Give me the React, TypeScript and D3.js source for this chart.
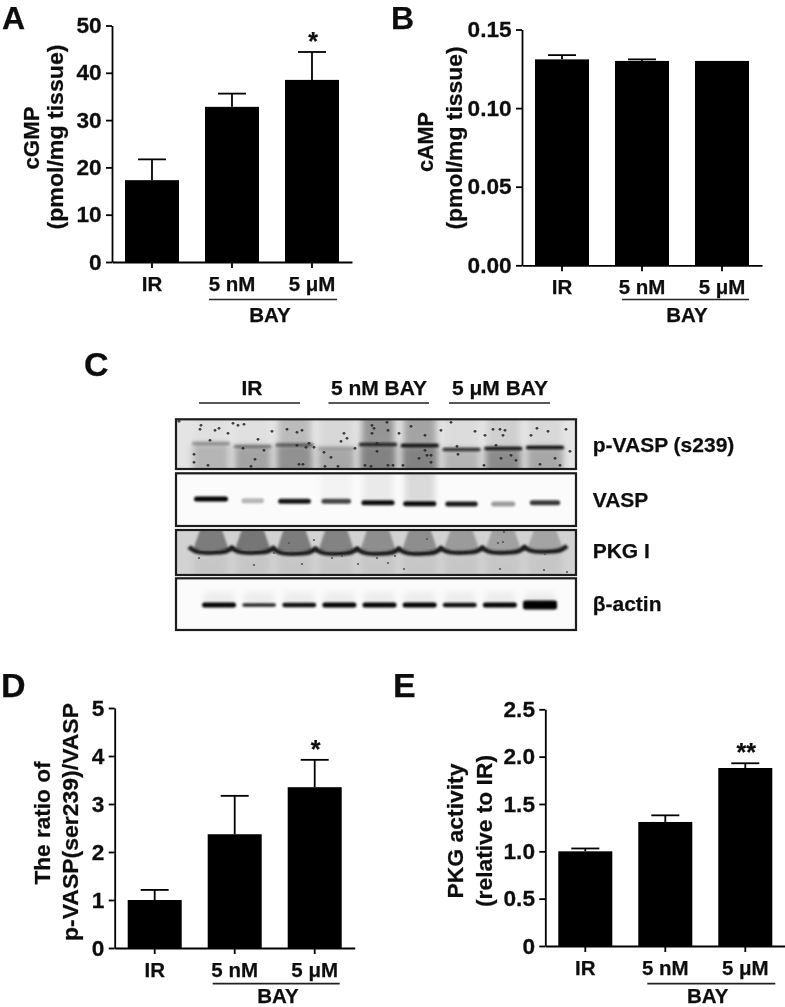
import React, { useEffect, useRef } from "react";
import * as d3 from "d3";

const groups = ["IR", "5 nM", "5 μM"];

// bar heights and top of the error whisker
const cgmpMeans = [17.3, 32.8, 38.5];
const cgmpUpper = [21.7, 35.6, 44.4];
const cgmpTicks = [0, 10, 20, 30, 40, 50];

const campMeans = [0.131, 0.13, 0.13];
const campUpper = [0.1337, 0.131, 0.13];
const campTicks = [0, 0.05, 0.1, 0.15];

const ratioMeans = [1.0, 2.37, 3.35];
const ratioUpper = [1.21, 3.17, 3.92];
const ratioTicks = [0, 1, 2, 3, 4, 5];

const pkgMeans = [1.0, 1.31, 1.88];
const pkgUpper = [1.03, 1.38, 1.93];
const pkgTicks = [0, 0.5, 1, 1.5, 2, 2.5];

// western blot, one value per lane
const lanes = ["1", "2", "3", "4", "5", "6", "7", "8", "9"];
const pVaspBand = [0.3, 0.4, 0.5, 0.2, 0.85, 1, 0.8, 0.95, 1];
const pVaspDrift = [24, 27, 25.5, 29, 25, 26, 30, 29, 28];
const pVaspBelow = [0.32, 0.45, 0.58, 0.42, 0.68, 0.68, 0.32, 0.62, 0.42];
const pVaspAbove = [0.02, 0.02, 0.28, 0.08, 0.55, 0.45, 0.05, 0.14, 0.08];
const vaspBand = [1, 0.28, 0.92, 0.72, 0.95, 0.95, 0.9, 0.38, 0.78];
const vaspDrift = [25.7, 27.4, 28, 28, 29.4, 30.4, 30.7, 30.7, 29.4];
const vaspHalo = [0, 0, 0, 0.06, 0.12, 0.25, 0, 0, 0];
const pkgBandDepth = [20, 20, 21, 21, 21, 21, 20, 20, 19];
const pkgShade = [0.8, 0.85, 0.8, 0.72, 0.62, 0.62, 0.5, 0.45, 0.42];
const actinBand = [1, 0.85, 0.95, 1, 1, 1, 0.95, 1, 1];
const actinThick = [5, 3.5, 4.5, 5, 5, 5, 4.5, 5, 9];

// dust on the membranes, in blot units (400 wide)
const pVaspSpecks: [number, number][] = [
  [3, 2], [25, 6], [24, 10], [39, 11], [43, 9], [52, 14], [57, 4], [62, 6], [68, 5], [34, 21],
  [18, 35], [18, 43], [32, 46], [67, 29], [82, 20], [96, 12], [111, 10], [121, 13], [126, 11],
  [88, 31], [79, 40], [75, 47], [121, 26], [133, 24], [130, 28], [138, 28], [123, 45], [127, 45],
  [148, 33], [155, 38], [149, 47], [162, 47], [168, 14], [165, 22], [171, 19], [179, 29], [196, 6],
  [198, 9], [196, 14], [201, 24], [189, 46], [195, 47], [211, 3], [212, 11], [223, 14], [249, 16],
  [235, 7], [265, 11], [201, 32], [249, 31], [251, 36], [255, 36], [255, 43], [212, 46], [217, 46],
  [227, 46], [243, 39], [281, 27], [282, 35], [275, 3], [299, 12], [309, 16], [317, 10], [324, 10],
  [329, 11], [327, 16], [320, 26], [325, 39], [335, 36], [340, 41], [308, 46], [355, 16], [361, 9],
  [372, 12], [390, 10], [394, 32], [379, 39], [364, 45], [384, 46],
];
const pkgSpecks: [number, number][] = [
  [23, 28], [78, 35], [98, 23], [126, 34], [156, 28], [166, 26], [182, 34], [138, 10], [113, 13],
  [201, 28], [219, 26], [212, 33], [228, 39], [324, 39], [368, 40], [391, 42], [328, 2], [322, 13],
  [327, 12], [369, 24], [251, 9],
];

const FONT = "'Liberation Sans', Arial, sans-serif";
const INK = "#111";

type Sel = d3.Selection<any, any, any, any>;

function label(g: Sel, str: string, x: number, y: number, size: number, opts: { len?: number; rot?: boolean; anchor?: string } = {}) {
  const { len, rot = false, anchor = "middle" } = opts;
  const t = g.append("text")
    .attr("transform", `translate(${x},${y})${rot ? " rotate(-90)" : ""}`)
    .attr("font-family", FONT)
    .attr("font-weight", "bold")
    .attr("font-size", size)
    .attr("text-anchor", anchor)
    .attr("fill", INK)
    .attr("stroke", INK)
    .attr("stroke-width", 0.25)
    .text(str);
  if (len) t.attr("textLength", len).attr("lengthAdjust", "spacingAndGlyphs");
}

function barPanel(root: Sel, p: any) {
  const x = d3.scaleBand<string>()
    .domain(groups)
    .range([p.left, p.left + 240])
    .paddingInner(0.325)
    .paddingOuter(0.1625);
  const y = d3.scaleLinear().domain([0, p.max]).range([p.bottom, p.top]);

  const g = root.append("g");

  g.selectAll("rect.bar")
    .data(p.means)
    .join("rect")
    .attr("class", "bar")
    .attr("x", (_: any, i: number) => x(groups[i])!)
    .attr("y", (d: any) => y(d))
    .attr("width", x.bandwidth())
    .attr("height", (d: any) => p.bottom - y(d))
    .attr("fill", "#000");

  // error whiskers
  const cx = (i: number) => x(groups[i])! + x.bandwidth() / 2;
  p.upper.forEach((u: number, i: number) => {
    if (u <= p.means[i]) return;
    g.append("line").attr("x1", cx(i)).attr("x2", cx(i)).attr("y1", y(p.means[i])).attr("y2", y(u))
      .attr("stroke", "#000").attr("stroke-width", 1.8);
    g.append("line").attr("x1", cx(i) - 14).attr("x2", cx(i) + 14).attr("y1", y(u)).attr("y2", y(u))
      .attr("stroke", "#000").attr("stroke-width", 1.8);
  });

  const yAxis = d3.axisLeft(y).tickValues(p.ticks).tickFormat(p.format).tickSize(6).tickSizeOuter(0).tickPadding(4);
  const xAxis = d3.axisBottom(x).tickSize(6).tickSizeOuter(0).tickPadding(8);

  const ya = g.append("g").attr("transform", `translate(${p.left},0)`).call(yAxis as any);
  const xa = g.append("g").attr("transform", `translate(0,${p.bottom})`).call(xAxis as any);
  [ya, xa].forEach((a) => {
    a.selectAll("path,line").attr("stroke", "#000").attr("stroke-width", 1.8);
    a.selectAll("text").attr("font-family", FONT).attr("font-weight", "bold").attr("fill", INK)
      .attr("stroke", INK).attr("stroke-width", 0.25);
  });
  ya.selectAll("text").attr("font-size", 22).attr("transform", "scale(1.03,1)");
  xa.selectAll("text").attr("font-size", 20.5);

  // BAY bracket under the two treated groups
  g.append("line").attr("x1", cx(1) + p.bracket[0]).attr("x2", cx(2) + p.bracket[1])
    .attr("y1", p.bracketY).attr("y2", p.bracketY).attr("stroke", "#222").attr("stroke-width", 1.7);
  label(g, "BAY", p.bayX, p.bayY, 20.5);

  if (p.star) label(g, p.star, cx(2) + 1, y(p.upper[2]) - 2, 25);

  p.yLabels.forEach((l: any) => label(g, l.text, l.x, l.y, l.size ?? 22, { rot: true, len: l.len }));
  label(g, p.letter, p.letterX, p.letterY, p.letterSize, { anchor: "start" });
}

function blots(root: Sel) {
  const defs = root.append("defs");
  [["b07", 0.9], ["b1", 1.1], ["b3", 3]].forEach(([id, s]) => {
    defs.append("filter").attr("id", id as string)
      .attr("x", "-60%").attr("y", "-400%").attr("width", "220%").attr("height", "900%")
      .append("feGaussianBlur").attr("stdDeviation", s as number);
  });

  const left = 176, right = 576;
  const unit = d3.scaleLinear().domain([0, 400]).range([left, right]);
  const lane = d3.scalePoint<string>().domain(lanes).range([211, 545]);
  const actinLane = d3.scalePoint<string>().domain(lanes).range([219, 540]);

  const row = (id: string, top: number, bottom: number, bg: string) => {
    defs.append("clipPath").attr("id", id).append("rect")
      .attr("x", left).attr("y", top).attr("width", right - left).attr("height", bottom - top);
    const g = root.append("g");
    const inner = g.append("g").attr("clip-path", `url(#${id})`);
    inner.append("rect").attr("x", left).attr("y", top).attr("width", right - left).attr("height", bottom - top).attr("fill", bg);
    return { g, inner, frame: () =>
      g.append("rect").attr("x", left).attr("y", top).attr("width", right - left).attr("height", bottom - top)
        .attr("fill", "none").attr("stroke", "#1a1a1a").attr("stroke-width", 2.2) };
  };

  // p-VASP
  {
    const top = 419.3, bottom = 469;
    const { inner, frame } = row("clipP", top, bottom, "#e4e4e4");
    lanes.forEach((l, i) => {
      const c = lane(l)!;
      const mid = top + pVaspDrift[i];
      inner.append("rect").attr("x", c - 18).attr("y", mid).attr("width", 36).attr("height", bottom - mid + 8)
        .attr("fill", "#555").attr("opacity", pVaspBelow[i]).attr("filter", "url(#b3)");
      inner.append("rect").attr("x", c - 16).attr("y", top - 6).attr("width", 32).attr("height", pVaspDrift[i] + 6)
        .attr("fill", "#555").attr("opacity", pVaspAbove[i]).attr("filter", "url(#b3)");
      inner.append("rect").attr("x", c - 19).attr("y", mid - 1.5).attr("width", 38).attr("height", 3.4).attr("rx", 1.5)
        .attr("fill", "#111").attr("opacity", pVaspBand[i]).attr("filter", "url(#b1)");
    });
    inner.selectAll("circle").data(pVaspSpecks).join("circle")
      .attr("cx", (d) => unit(d[0])).attr("cy", (d) => top + d[1]).attr("r", 1.4).attr("fill", "#222")
      .attr("opacity", 0.85);
    frame();
  }

  // VASP
  {
    const top = 473.3, bottom = 526;
    const { inner, frame } = row("clipV", top, bottom, "#fbfbfb");
    lanes.forEach((l, i) => {
      const c = lane(l)!;
      inner.append("rect").attr("x", c - 15).attr("y", top - 4).attr("width", 30).attr("height", vaspDrift[i] + 4)
        .attr("fill", "#777").attr("opacity", vaspHalo[i]).attr("filter", "url(#b3)");
      const w = 18 + 16 * vaspBand[i];
      inner.append("rect").attr("x", c - w / 2).attr("y", top + vaspDrift[i] - 2.5).attr("width", w).attr("height", 5).attr("rx", 2.5)
        .attr("fill", "#000").attr("opacity", vaspBand[i]).attr("filter", "url(#b1)");
    });
    frame();
  }

  // PKG I: band curls up at each lane edge, shaded wedge above it
  {
    const top = 530, bottom = 575;
    const { inner, frame } = row("clipK", top, bottom, "#d2d2d2");
    const wave = d3.line<[number, number]>().x((d) => d[0]).y((d) => d[1]).curve(d3.curveBasis);
    lanes.forEach((l, i) => {
      const c = lane(l)!;
      const base = top + pkgBandDepth[i];
      inner.append("path")
        .attr("d", d3.line()([[c - 11, top], [c + 11, top], [c + 18, base], [c - 18, base]]) + "Z")
        .attr("fill", "#666").attr("opacity", pkgShade[i]).attr("filter", "url(#b1)");
      inner.append("rect").attr("x", c - 17).attr("y", base + 4).attr("width", 34).attr("height", bottom - base)
        .attr("fill", "#9a9a9a").attr("opacity", 0.2).attr("filter", "url(#b3)");
      inner.append("path")
        .attr("d", wave([[c - 22, base - 3], [c - 16, base + 2], [c - 4, base + 3], [c + 4, base + 2.5], [c + 16, base + 2], [c + 22, base - 3]]))
        .attr("fill", "none").attr("stroke", "#1c1c1c").attr("stroke-width", 4.5).attr("filter", "url(#b07)");
    });
    inner.selectAll("circle").data(pkgSpecks).join("circle")
      .attr("cx", (d) => unit(d[0])).attr("cy", (d) => top + d[1]).attr("r", 1.1).attr("fill", "#555");
    frame();
  }

  // beta-actin
  {
    const top = 578.3, bottom = 630;
    const { inner, frame } = row("clipA", top, bottom, "#fbfbfb");
    lanes.forEach((l, i) => {
      const c = actinLane(l)!;
      inner.append("rect").attr("x", c - 15).attr("y", top + 14).attr("width", 30).attr("height", 12)
        .attr("fill", "#aaa").attr("opacity", 0.18).attr("filter", "url(#b3)");
      inner.append("rect").attr("x", c - 17).attr("y", top + 26.7 - actinThick[i] / 2).attr("width", 34).attr("height", actinThick[i]).attr("rx", 2.5)
        .attr("fill", "#000").attr("opacity", actinBand[i]).attr("filter", "url(#b07)");
    });
    frame();
  }

  // lane group headings
  const heads: [string, number, number, number][] = [
    ["IR", 252, 199, 300],
    ["5 nM BAY", 379, 328.5, 429],
    ["5 μM BAY", 500, 449, 550],
  ];
  heads.forEach(([t, c, a, b]) => {
    label(root, t, c, 395, 21);
    root.append("line").attr("x1", a).attr("x2", b).attr("y1", 403).attr("y2", 403).attr("stroke", "#222").attr("stroke-width", 1.7);
  });

  const names: [string, number][] = [["p-VASP (s239)", 452], ["VASP", 507], ["PKG I", 558], ["β-actin", 611]];
  names.forEach(([t, y]) => label(root, t, 592.7, y, 21, { anchor: "start" }));

  label(root, "C", 84, 376, 34, { anchor: "start" });
}

function App() {
  const svgRef = useRef<SVGSVGElement>(null);

  useEffect(() => {
    const svg = d3.select(svgRef.current);
    svg.selectAll("*").remove();

    const soft = svg.append("defs").append("filter").attr("id", "soft");
    soft.append("feGaussianBlur").attr("stdDeviation", 0.35);
    const root = svg.append("g").attr("filter", "url(#soft)");
    root.append("rect").attr("width", 785).attr("height", 1007).attr("fill", "#fff");

    const intFmt = (d: any) => String(d);
    barPanel(root, {
      letter: "A", letterX: 2, letterY: 29, letterSize: 32, left: 112, bottom: 262, top: 25.5, max: 50,
      means: cgmpMeans, upper: cgmpUpper, ticks: cgmpTicks, format: intFmt,
      bracket: [-23, 25], bracketY: 299.5, bayX: 270, bayY: 321.5, star: "*",
      yLabels: [
        { text: "cGMP", x: 39, y: 138, len: 63 },
        { text: "(pmol/mg tissue)", x: 63, y: 137, len: 185 },
      ],
    });
    barPanel(root, {
      letter: "B", letterX: 391, letterY: 29, letterSize: 32, left: 522, bottom: 265.3, top: 29.5, max: 0.15,
      means: campMeans, upper: campUpper, ticks: campTicks, format: d3.format(".2f"),
      bracket: [-20, 27], bracketY: 299.5, bayX: 687, bayY: 321.5,
      yLabels: [
        { text: "cAMP", x: 433, y: 142, len: 60 },
        { text: "(pmol/mg tissue)", x: 462, y: 138, len: 183 },
      ],
    });
    barPanel(root, {
      letter: "D", letterX: 1, letterY: 697, letterSize: 34, left: 114.7, bottom: 948, top: 708, max: 5,
      means: ratioMeans, upper: ratioUpper, ticks: ratioTicks, format: intFmt,
      bracket: [-22, 25], bracketY: 983.7, bayX: 278, bayY: 1002.5, star: "*",
      yLabels: [
        { text: "The ratio of", x: 50, y: 823, len: 123 },
        { text: "p-VASP(ser239)/VASP", x: 78, y: 822, len: 238 },
      ],
    });
    barPanel(root, {
      letter: "E", letterX: 393, letterY: 697, letterSize: 34, left: 545.3, bottom: 946, top: 709.3, max: 2.5,
      means: pkgMeans, upper: pkgUpper, ticks: pkgTicks,
      format: (d: any) => (d === 0 ? "0" : d3.format(".1f")(d)),
      bracket: [-18, 30], bracketY: 983.7, bayX: 707.7, bayY: 1002.5, star: "**",
      yLabels: [
        { text: "PKG activity", x: 463, y: 831, len: 135 },
        { text: "(relative to IR)", x: 492, y: 831, len: 152 },
      ],
    });

    blots(root);
  }, []);

  return (
    <svg
      ref={svgRef}
      width={785}
      height={1007}
      style={{ position: "absolute", left: 0, top: 0, display: "block" }}
    />
  );
}

export default App;
